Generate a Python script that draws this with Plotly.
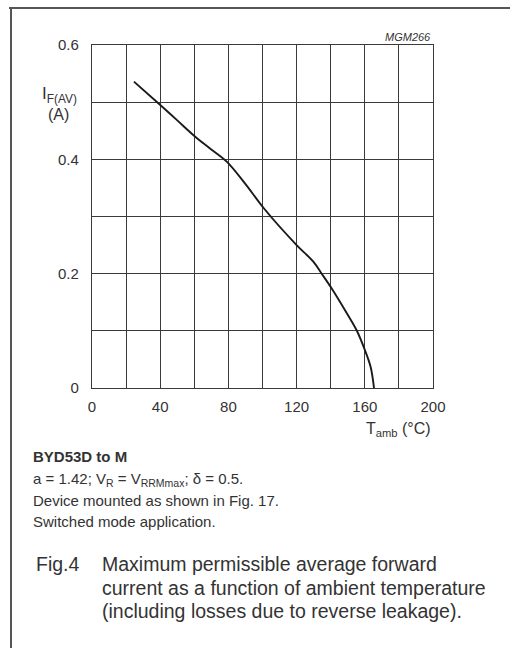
import plotly.graph_objects as go

# Data
t_amb = [24.6, 38.9, 49.7, 60.4, 69.2, 79.0, 89.7, 100.9, 120, 129.8, 134.7, 140.6, 148.4, 155.2, 160.1, 163.4, 165.4]
i_fav = [0.536, 0.498, 0.469, 0.440, 0.419, 0.396, 0.358, 0.314, 0.250, 0.221, 0.200, 0.174, 0.136, 0.101, 0.066, 0.037, 0.0]

x_ticks = [0, 40, 80, 120, 160, 200]
y_ticks = [0, 0.2, 0.4, 0.6]
y_tick_text = ["0", "0.2", "0.4", "0.6"]

W, H = 510, 648
L, R, T, B = 92, 433, 45, 388
FONT = "Liberation Sans, Arial, sans-serif"
GRID = "#3a3a3a"


def px(x):
    return (x - L) / (R - L)


def py(y):
    return (B - y) / (B - T)


fig = go.Figure()
fig.add_trace(go.Scatter(x=t_amb, y=i_fav, mode="lines",
                         line=dict(color="#1a1a1a", width=1.9, shape="spline", smoothing=1.0),
                         showlegend=False, hoverinfo="skip"))

fig.update_layout(
    width=W, height=H,
    margin=dict(l=L, r=W - R, t=T, b=H - B),
    paper_bgcolor="white", plot_bgcolor="white",
    font=dict(family=FONT, color="#333"),
    xaxis=dict(range=[0, 200], tickvals=x_ticks, ticks="", showgrid=True,
               gridcolor=GRID, gridwidth=1.2, zeroline=False,
               minor=dict(dtick=20, showgrid=True, gridcolor=GRID, gridwidth=1.2),
               showline=True, linecolor=GRID, linewidth=1.2, mirror=True,
               tickfont=dict(size=15, color="#333"), ticklabelstandoff=5),
    yaxis=dict(range=[0, 0.6], tickvals=y_ticks, ticktext=y_tick_text, ticks="", showgrid=True,
               gridcolor=GRID, gridwidth=1.2, zeroline=False,
               minor=dict(dtick=0.1, showgrid=True, gridcolor=GRID, gridwidth=1.2),
               showline=True, linecolor=GRID, linewidth=1.2, mirror=True,
               tickfont=dict(size=15, color="#333"), ticklabelstandoff=9),
)

ann = []


def text(x, y, s, size, anchor="left"):
    ann.append(dict(x=px(x), y=py(y), xref="paper", yref="paper", text=s, showarrow=False,
                    xanchor=anchor, yanchor="middle", font=dict(size=size, family=FONT, color="#333")))


text(433, 37, "<i>MGM266</i>", 11, "right")
text(59, 95, "I<sub>F(AV)</sub>", 17, "center")
text(58, 114, "(A)", 16, "center")
text(433, 430, "T<sub>amb</sub> (°C)", 16, "right")
text(31, 457, "<b>BYD53D to M</b>", 15)
text(31, 479, "a = 1.42; V<sub>R</sub> = V<sub>RRMmax</sub>; δ = 0.5.", 15)
text(31, 500, "Device mounted as shown in Fig. 17.", 15)
text(31, 521, "Switched mode application.", 15)
text(34, 564, "Fig.4", 19.5)
text(100, 564, "Maximum permissible average forward", 19.5)
text(100, 588, "current as a function of ambient temperature", 19.5)
text(100, 611, "(including losses due to reverse leakage).", 19.5)
fig.update_layout(annotations=ann)

# page frame lines
shapes = [
    dict(type="line", xref="paper", yref="paper", x0=px(11), x1=px(11), y0=py(8), y1=py(648),
         line=dict(color="#555", width=2)),
    dict(type="line", xref="paper", yref="paper", x0=px(9), x1=px(510), y0=py(8), y1=py(8),
         line=dict(color="#555", width=2)),
]
fig.update_layout(shapes=shapes)

fig.write_html("out.html")
